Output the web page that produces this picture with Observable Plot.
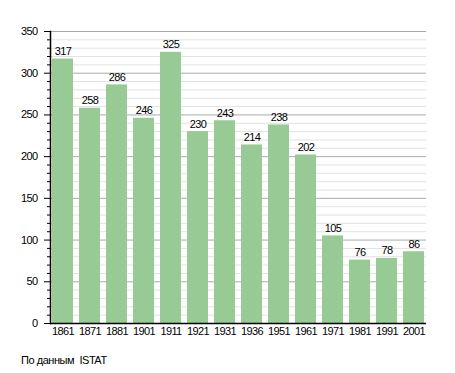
<!DOCTYPE html>
<html><head><meta charset="utf-8">
<script src="https://cdn.jsdelivr.net/npm/d3@7"></script>
<script src="https://cdn.jsdelivr.net/npm/@observablehq/plot@0.6"></script>
<style>
body{margin:0;background:#fff;font-family:"Liberation Sans",Arial,sans-serif;}
#cap{font-size:11px;margin:9px 0 0 21px;color:#000;letter-spacing:-0.45px;}
</style></head><body>
<div id="chart"></div>
<div id="cap">По данным&nbsp; ISTAT</div>
<script>
const years = ["1861","1871","1881","1901","1911","1921","1931","1936","1951","1961","1971","1981","1991","2001"];
const population = [317,258,286,246,325,230,243,214,238,202,105,76,78,86];
const majorTicks = [0,50,100,150,200,250,300,350];
const minorTicks = d3.range(0,351,10).filter(v => v % 50 !== 0);

const data = years.map((y,i) => ({year:y, value:population[i]}));

const chart = Plot.plot({
  width: 455,
  height: 345,
  marginLeft: 50,
  marginRight: 29,
  marginTop: 31,
  marginBottom: 22,
  style: {fontFamily: '"Liberation Sans", Arial, sans-serif', fontSize: "11px", background: "#fff", letterSpacing: "-0.6px"},
  x: {domain: years, paddingInner: 0.22, paddingOuter: 0, label: null},
  y: {domain: [0,350], label: null},
  marks: [
    Plot.ruleY(minorTicks, {stroke: "#e2e2e2", strokeWidth: 1}),
    Plot.ruleY(majorTicks.filter(v => v>0), {stroke: "#aaaaaa", strokeWidth: 1}),
    Plot.barY(data, {x: "year", y: "value", fill: "#98ca95"}),
    Plot.text(data, {x: "year", y: "value", text: d => String(d.value), lineAnchor: "bottom", dy: -4, fill: "#000"}),
    Plot.axisY({ticks: minorTicks, tickSize: 3, tickFormat: () => "", stroke: "#000"}),
    Plot.axisY({ticks: majorTicks, tickSize: 6, tickPadding: 7, stroke: "#000", fill: "#000"}),
    Plot.axisX({tickSize: 0, tickPadding: 4, fill: "#000"}),
    Plot.ruleY([0], {stroke: "#000", strokeWidth: 1.5}),
    Plot.frame({anchor: "left", stroke: "#000", strokeWidth: 1.5})
  ]
});
document.getElementById("chart").appendChild(chart);
</script>
</body></html>
